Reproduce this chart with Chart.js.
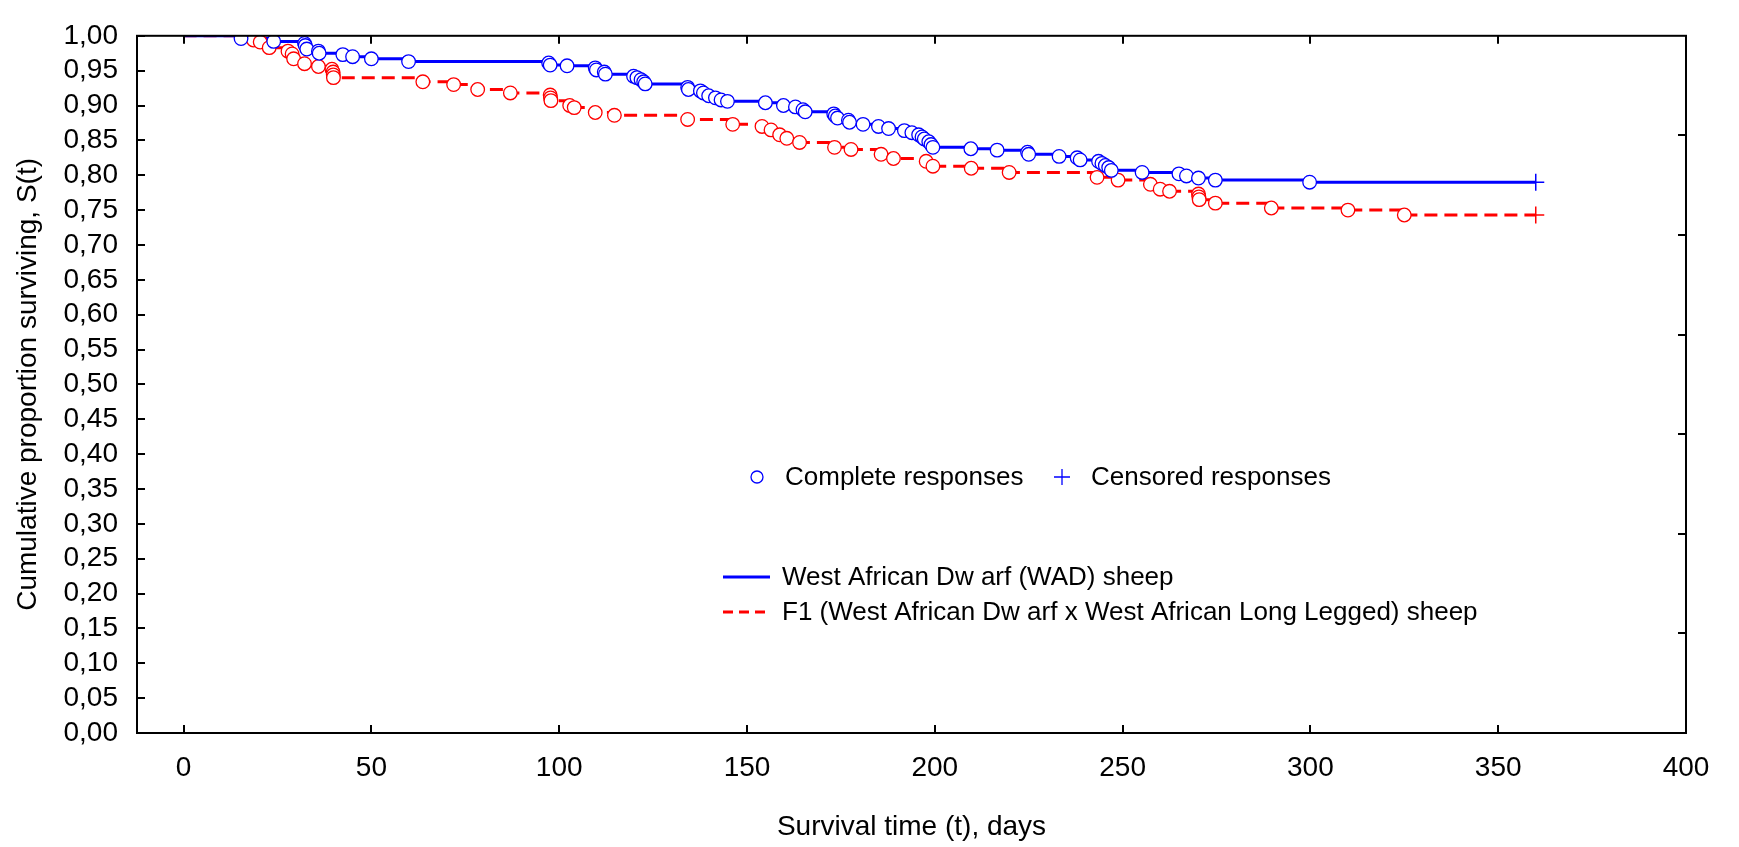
<!DOCTYPE html>
<html>
<head>
<meta charset="utf-8">
<script src="https://cdn.jsdelivr.net/npm/chart.js@4.4.1/dist/chart.umd.min.js"></script>
<style>
  html, body { margin: 0; padding: 0; background: #fff; }
  #wrap { width: 1739px; height: 847px; }
</style>
</head>
<body>
<div id="wrap"><canvas id="survChart" width="1739" height="847"></canvas></div>
<script>
// tick positions
const xTicks = [0, 50, 100, 150, 200, 250, 300, 350, 400];
const yTicks = [0, 0.05, 0.10, 0.15, 0.20, 0.25, 0.30, 0.35, 0.40, 0.45, 0.50,
                0.55, 0.60, 0.65, 0.70, 0.75, 0.80, 0.85, 0.90, 0.95, 1.00];
const rightTicks = [0.1429, 0.2857, 0.4286, 0.5714, 0.7143, 0.8571];

// West African Dwarf: complete responses (days, S(t))
const wadDays = [15.3, 24.0, 32.2, 32.4, 32.8, 35.9, 36.1, 42.4, 45.0, 50.0, 59.9, 97.2, 97.6, 102.1,
  109.6, 109.9, 112.0, 112.3, 119.8, 120.7, 121.8, 122.5, 122.9, 134.2, 134.4, 137.6, 138.4, 139.8,
  141.6, 143.1, 144.8, 154.9, 159.7, 162.9, 164.9, 165.5, 173.1, 173.5, 174.1, 177.0, 177.3, 180.9,
  185.0, 187.7, 191.9, 193.9, 195.7, 196.6, 197.2, 198.4, 199.0, 199.5, 209.6, 216.6, 224.7, 225.0,
  233.1, 237.9, 238.7, 243.6, 244.5, 245.4, 246.3, 247.0, 255.2, 265.0, 267.0, 270.2, 274.7, 299.8];
const wadSurv = [0.996, 0.992, 0.989, 0.986, 0.981, 0.978, 0.975, 0.973, 0.970, 0.967, 0.963, 0.961, 0.958, 0.957,
  0.954, 0.951, 0.948, 0.945, 0.942, 0.940, 0.937, 0.934, 0.931, 0.926, 0.923, 0.921, 0.918, 0.914,
  0.911, 0.908, 0.906, 0.904, 0.900, 0.898, 0.894, 0.891, 0.888, 0.885, 0.882, 0.879, 0.876, 0.873,
  0.870, 0.867, 0.864, 0.861, 0.858, 0.855, 0.852, 0.848, 0.844, 0.840, 0.838, 0.836, 0.833, 0.830,
  0.827, 0.825, 0.822, 0.820, 0.817, 0.814, 0.811, 0.807, 0.804, 0.802, 0.799, 0.796, 0.793, 0.790];
const wadCensDays = [360];
const wadCensSurv = [0.790];

// F1 (WAD x WALL): complete responses
const f1Days = [18.6, 20.4, 22.8, 27.8, 28.9, 29.3, 32.2, 35.9, 39.5, 39.8, 39.85, 39.9, 63.7, 71.9,
  78.3, 87.0, 97.6, 97.7, 97.8, 102.8, 104.0, 109.6, 114.7, 134.2, 146.2, 154.0, 156.4, 158.7, 160.6,
  164.0, 173.3, 177.7, 185.7, 189.0, 197.7, 199.5, 209.7, 219.8, 243.2, 248.8, 257.4, 260.0, 262.5,
  270.2, 270.3, 270.4, 274.7, 289.6, 310.0, 325.0];
const f1Surv = [0.994, 0.991, 0.983, 0.978, 0.974, 0.967, 0.960, 0.956, 0.952, 0.948, 0.944, 0.940, 0.934, 0.930,
  0.923, 0.918, 0.915, 0.911, 0.907, 0.900, 0.897, 0.890, 0.886, 0.880, 0.873, 0.870, 0.865, 0.858, 0.853,
  0.847, 0.840, 0.837, 0.830, 0.824, 0.820, 0.813, 0.810, 0.804, 0.797, 0.793, 0.787, 0.780, 0.777,
  0.773, 0.769, 0.765, 0.760, 0.753, 0.750, 0.743];
const f1CensDays = [360];
const f1CensSurv = [0.743];

const BLUE = '#0000ff';
const RED = '#ff0000';
const FONT = '"Liberation Sans", Arial, sans-serif';

function pts(days, surv) {
  return days.map((d, i) => ({x: d, y: surv[i]}));
}
function stepLine(days, surv, cDays, cSurv) {
  return [{x: 0, y: 1}].concat(pts(days, surv), pts(cDays, cSurv));
}

// frame with inward ticks + in-plot legend
const framePlugin = {
  id: 'frame',
  afterDraw(chart) {
    const {ctx, chartArea: a, scales: {x, y}} = chart;
    ctx.save();
    ctx.strokeStyle = '#000';
    ctx.lineWidth = 2;
    ctx.strokeRect(a.left, a.top, a.right - a.left, a.bottom - a.top);
    ctx.beginPath();
    xTicks.forEach(v => {
      const px = Math.round(x.getPixelForValue(v));
      ctx.moveTo(px, a.bottom); ctx.lineTo(px, a.bottom - 8);
      ctx.moveTo(px, a.top); ctx.lineTo(px, a.top + 8);
    });
    yTicks.forEach(v => {
      const py = Math.round(y.getPixelForValue(v));
      ctx.moveTo(a.left, py); ctx.lineTo(a.left + 8, py);
    });
    rightTicks.forEach(v => {
      const py = Math.round(y.getPixelForValue(v));
      ctx.moveTo(a.right, py); ctx.lineTo(a.right - 8, py);
    });
    ctx.stroke();

    // legend
    ctx.font = '26px ' + FONT;
    ctx.textAlign = 'left';
    ctx.textBaseline = 'middle';

    ctx.lineWidth = 1.3;
    ctx.strokeStyle = BLUE;
    ctx.fillStyle = '#fff';
    ctx.beginPath();
    ctx.arc(757, 477, 6, 0, Math.PI * 2);
    ctx.fill();
    ctx.stroke();
    ctx.beginPath();
    ctx.moveTo(1054, 477); ctx.lineTo(1070, 477);
    ctx.moveTo(1062, 469); ctx.lineTo(1062, 485);
    ctx.stroke();

    ctx.fillStyle = '#000';
    ctx.fillText('Complete responses', 785, 478);
    ctx.fillText('Censored responses', 1091, 478);

    ctx.lineWidth = 3;
    ctx.strokeStyle = BLUE;
    ctx.beginPath();
    ctx.moveTo(723, 577); ctx.lineTo(770, 577);
    ctx.stroke();
    ctx.strokeStyle = RED;
    ctx.setLineDash([10, 6]);
    ctx.beginPath();
    ctx.moveTo(723, 612); ctx.lineTo(770, 612);
    ctx.stroke();
    ctx.setLineDash([]);

    ctx.fillText('West African Dw arf (WAD) sheep', 782, 578);
    ctx.fillText('F1 (West African Dw arf x West African Long Legged) sheep', 782, 613);
    ctx.restore();
  }
};

let contextSurv = document.getElementById('survChart').getContext('2d');

new Chart(contextSurv, {
  type: 'scatter',
  data: {
    datasets: [
      {
        label: 'West African Dw arf (WAD) sheep',
        data: stepLine(wadDays, wadSurv, wadCensDays, wadCensSurv),
        showLine: true,
        stepped: true,
        borderColor: BLUE,
        borderWidth: 3,
        pointRadius: 0,
        order: 4
      },
      {
        label: 'F1 (West African Dw arf x West African Long Legged) sheep',
        data: stepLine(f1Days, f1Surv, f1CensDays, f1CensSurv),
        showLine: true,
        stepped: true,
        borderColor: RED,
        borderWidth: 3,
        borderDash: [13, 7],
        pointRadius: 0,
        order: 5
      },
      {
        label: 'WAD complete',
        data: pts(wadDays, wadSurv),
        pointStyle: 'circle',
        pointRadius: 6.8,
        borderColor: BLUE,
        backgroundColor: '#fff',
        borderWidth: 1.3,
        order: 2
      },
      {
        label: 'F1 complete',
        data: pts(f1Days, f1Surv),
        pointStyle: 'circle',
        pointRadius: 6.8,
        borderColor: RED,
        backgroundColor: '#fff',
        borderWidth: 1.3,
        order: 3
      },
      {
        label: 'WAD censored',
        data: pts(wadCensDays, wadCensSurv),
        pointStyle: 'cross',
        pointRadius: 8.5,
        borderColor: BLUE,
        borderWidth: 1.5,
        order: 1
      },
      {
        label: 'F1 censored',
        data: pts(f1CensDays, f1CensSurv),
        pointStyle: 'cross',
        pointRadius: 8.5,
        borderColor: RED,
        borderWidth: 1.5,
        order: 1
      }
    ]
  },
  options: {
    responsive: false,
    animation: false,
    events: [],
    devicePixelRatio: 1,
    layout: { padding: { top: 23, right: 53, left: 0, bottom: 0 } },
    plugins: {
      legend: { display: false },
      tooltip: { enabled: false }
    },
    scales: {
      x: {
        type: 'linear',
        min: -12.4,
        max: 400,
        afterBuildTicks: scale => { scale.ticks = xTicks.map(v => ({value: v})); },
        afterFit: scale => { scale.height = 114; },
        grid: { display: false, drawTicks: false },
        border: { display: false },
        ticks: {
          autoSkip: false,
          maxRotation: 0,
          padding: 18,
          color: '#000',
          font: { family: FONT, size: 28 }
        },
        title: {
          display: true,
          text: 'Survival time (t), days',
          color: '#000',
          font: { family: FONT, size: 28 },
          padding: { top: 0, bottom: 3 }
        }
      },
      y: {
        type: 'linear',
        min: 0,
        max: 1,
        afterBuildTicks: scale => { scale.ticks = yTicks.map(v => ({value: v})); },
        afterFit: scale => { scale.width = 137; },
        grid: { display: false, drawTicks: false },
        border: { display: false },
        ticks: {
          autoSkip: false,
          padding: 19,
          color: '#000',
          font: { family: FONT, size: 28 },
          callback: v => v.toFixed(2).replace('.', ',')
        },
        title: {
          display: true,
          text: 'Cumulative proportion surviving, S(t)',
          color: '#000',
          font: { family: FONT, size: 28 },
          padding: { top: 11, bottom: 0 }
        }
      }
    }
  },
  plugins: [framePlugin]
});
</script>
</body>
</html>
